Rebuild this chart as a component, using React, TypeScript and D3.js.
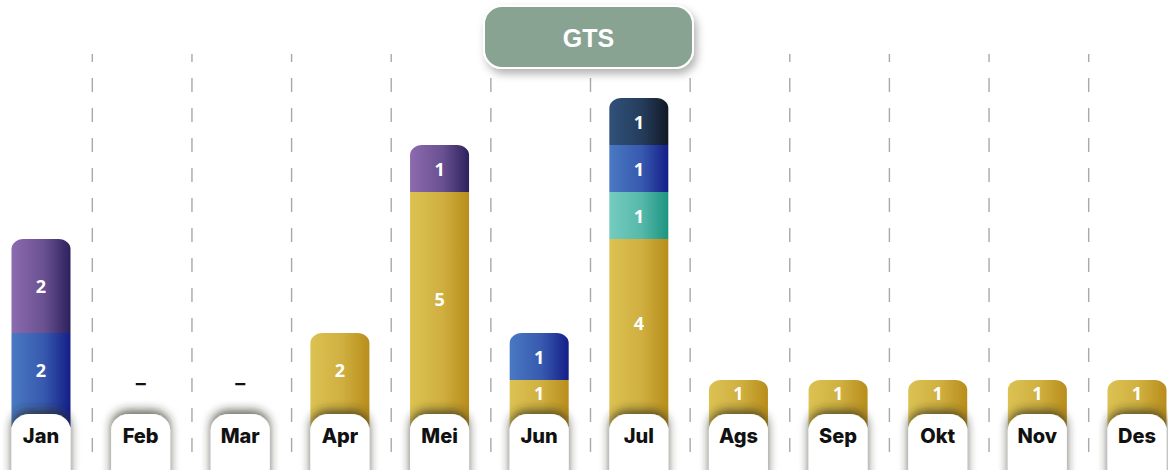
import React from "react";
import * as d3 from "d3";

const months = ["Jan", "Feb", "Mar", "Apr", "Mei", "Jun", "Jul", "Ags", "Sep", "Okt", "Nov", "Des"];
const seriesKeys = ["kuning", "hijau", "biru", "navy", "ungu"];
const kuning = [0, 0, 0, 2, 5, 1, 4, 1, 1, 1, 1, 1];
const hijau = [0, 0, 0, 0, 0, 0, 1, 0, 0, 0, 0, 0];
const biru = [2, 0, 0, 0, 0, 1, 1, 0, 0, 0, 0, 0];
const navy = [0, 0, 0, 0, 0, 0, 1, 0, 0, 0, 0, 0];
const ungu = [2, 0, 0, 0, 1, 0, 0, 0, 0, 0, 0, 0];
const title = "GTS";

const gradients: Record<string, [string, string]> = {
  kuning: ["#dcc253", "#b88d1b"],
  hijau: ["#74ccc0", "#1d9480"],
  biru: ["#4a79c2", "#141e88"],
  navy: ["#30517a", "#111925"],
  ungu: ["#8c6bae", "#2c215c"],
};

const W = 1168;
const H = 470;
const BAR_W = 59;
const PILL_TOP = 414;
const LABEL_CLAMP = 406;

export default function App() {
  const seriesVals: Record<string, number[]> = { kuning, hijau, biru, navy, ungu };
  const table = months.map((m, i) => {
    const row: any = { month: m };
    seriesKeys.forEach((k) => (row[k] = seriesVals[k][i]));
    return row;
  });
  const stacked = d3.stack().keys(seriesKeys)(table as any);
  const totals = months.map((_, i) => seriesKeys.reduce((s, k) => s + seriesVals[k][i], 0));

  const x = d3.scalePoint<string>().domain(months).range([41, 1137]);
  const y = d3.scaleLinear().domain([0, 7]).range([427, 98]);
  const step = x.step();

  const topPath = (x0: number, y0: number, w: number, h: number, rx: number, ry: number) => {
    const p = d3.path();
    p.moveTo(x0, y0 + h);
    p.lineTo(x0, y0 + ry);
    p.bezierCurveTo(x0, y0 + ry * 0.45, x0 + rx * 0.45, y0, x0 + rx, y0);
    p.lineTo(x0 + w - rx, y0);
    p.bezierCurveTo(x0 + w - rx * 0.45, y0, x0 + w, y0 + ry * 0.45, x0 + w, y0 + ry);
    p.lineTo(x0 + w, y0 + h);
    p.closePath();
    return p.toString();
  };

  const segments: any[] = [];
  stacked.forEach((layer) => {
    layer.forEach((d, i) => {
      const v = d[1] - d[0];
      if (v <= 0) return;
      const isTop = d[1] === totals[i];
      segments.push({ key: layer.key, i, y0: d[0], y1: d[1], v, isTop });
    });
  });

  return (
    <svg width={W} height={H} style={{ display: "block", position: "absolute", left: 0, top: 0 }}>
      <defs>
        {seriesKeys.map((k) => (
          <linearGradient key={k} id={`g-${k}`} x1="0" x2="1" y1="0" y2="0">
            <stop offset="0%" stopColor={gradients[k][0]} />
            <stop offset="55%" stopColor={d3.interpolateRgb(gradients[k][0], gradients[k][1])(0.35)} />
            <stop offset="100%" stopColor={gradients[k][1]} />
          </linearGradient>
        ))}
        <filter id="pillShadow" x="-40%" y="-60%" width="180%" height="220%">
          <feDropShadow dx="0" dy="-4" stdDeviation="5" floodColor="#26261a" floodOpacity="0.7" />
        </filter>
        <filter id="titleShadow" x="-20%" y="-30%" width="140%" height="180%">
          <feDropShadow dx="3" dy="5" stdDeviation="4" floodColor="#000" floodOpacity="0.3" />
        </filter>
      </defs>
      <rect width={W} height={H} fill="#fff" />

      {months.slice(1).map((m) => {
        const xv = (x(m) as number) - step / 2 + 1.5;
        return (
          <line key={`sep-${m}`} x1={xv} x2={xv} y1={54} y2={460} stroke="#a9a9a9" strokeWidth={1.4} strokeDasharray="14,16" strokeDashoffset={6} />
        );
      })}

      {segments.map((s, idx) => {
        const cx = x(months[s.i]) as number;
        const top = y(s.y1);
        const bot = y(s.y0);
        const x0 = cx - BAR_W / 2;
        const d = s.isTop ? topPath(x0, top, BAR_W, bot - top, 12, 10) : topPath(x0, top, BAR_W, bot - top, 0, 0);
        return <path key={`seg-${idx}`} d={d} fill={`url(#g-${s.key})`} />;
      })}

      {segments.map((s, idx) => {
        const cx = x(months[s.i]) as number;
        const top = y(s.y1);
        const bot = Math.min(y(s.y0), LABEL_CLAMP);
        return (
          <text key={`lab-${idx}`} x={cx} y={(top + bot) / 2} textAnchor="middle" dominantBaseline="central"
            fill="#fff" fontFamily="'Open Sans', sans-serif" fontWeight={700} fontSize={18}>
            {s.v}
          </text>
        );
      })}
      {months.map((m, i) =>
        totals[i] === 0 ? (
          <text key={`dash-${m}`} x={x(m) as number} y={y(0.93)} textAnchor="middle" dominantBaseline="central"
            fill="#111" fontFamily="Inter, sans-serif" fontWeight={700} fontSize={20}>
            –
          </text>
        ) : null
      )}

      {months.map((m) => {
        const cx = x(m) as number;
        return (
          <g key={`pill-${m}`}>
            <path d={topPath(cx - BAR_W / 2, PILL_TOP, BAR_W, H - PILL_TOP + 20, 18, 16)} fill="#fff" filter="url(#pillShadow)" />
            <text x={cx} y={436} textAnchor="middle" dominantBaseline="central" fill="#111"
              fontFamily="Inter, sans-serif" fontWeight={800} fontSize={20}>
              {m}
            </text>
          </g>
        );
      })}

      <g filter="url(#titleShadow)">
        <rect x={484} y={6} width={209} height={62} rx={18} fill="#89a393" stroke="#fff" strokeWidth={2} />
      </g>
      <text x={588.5} y={37.5} textAnchor="middle" dominantBaseline="central" fill="#fff"
        fontFamily="'Liberation Sans', Arial, sans-serif" fontWeight={700} fontSize={25}>
        {title}
      </text>
    </svg>
  );
}
